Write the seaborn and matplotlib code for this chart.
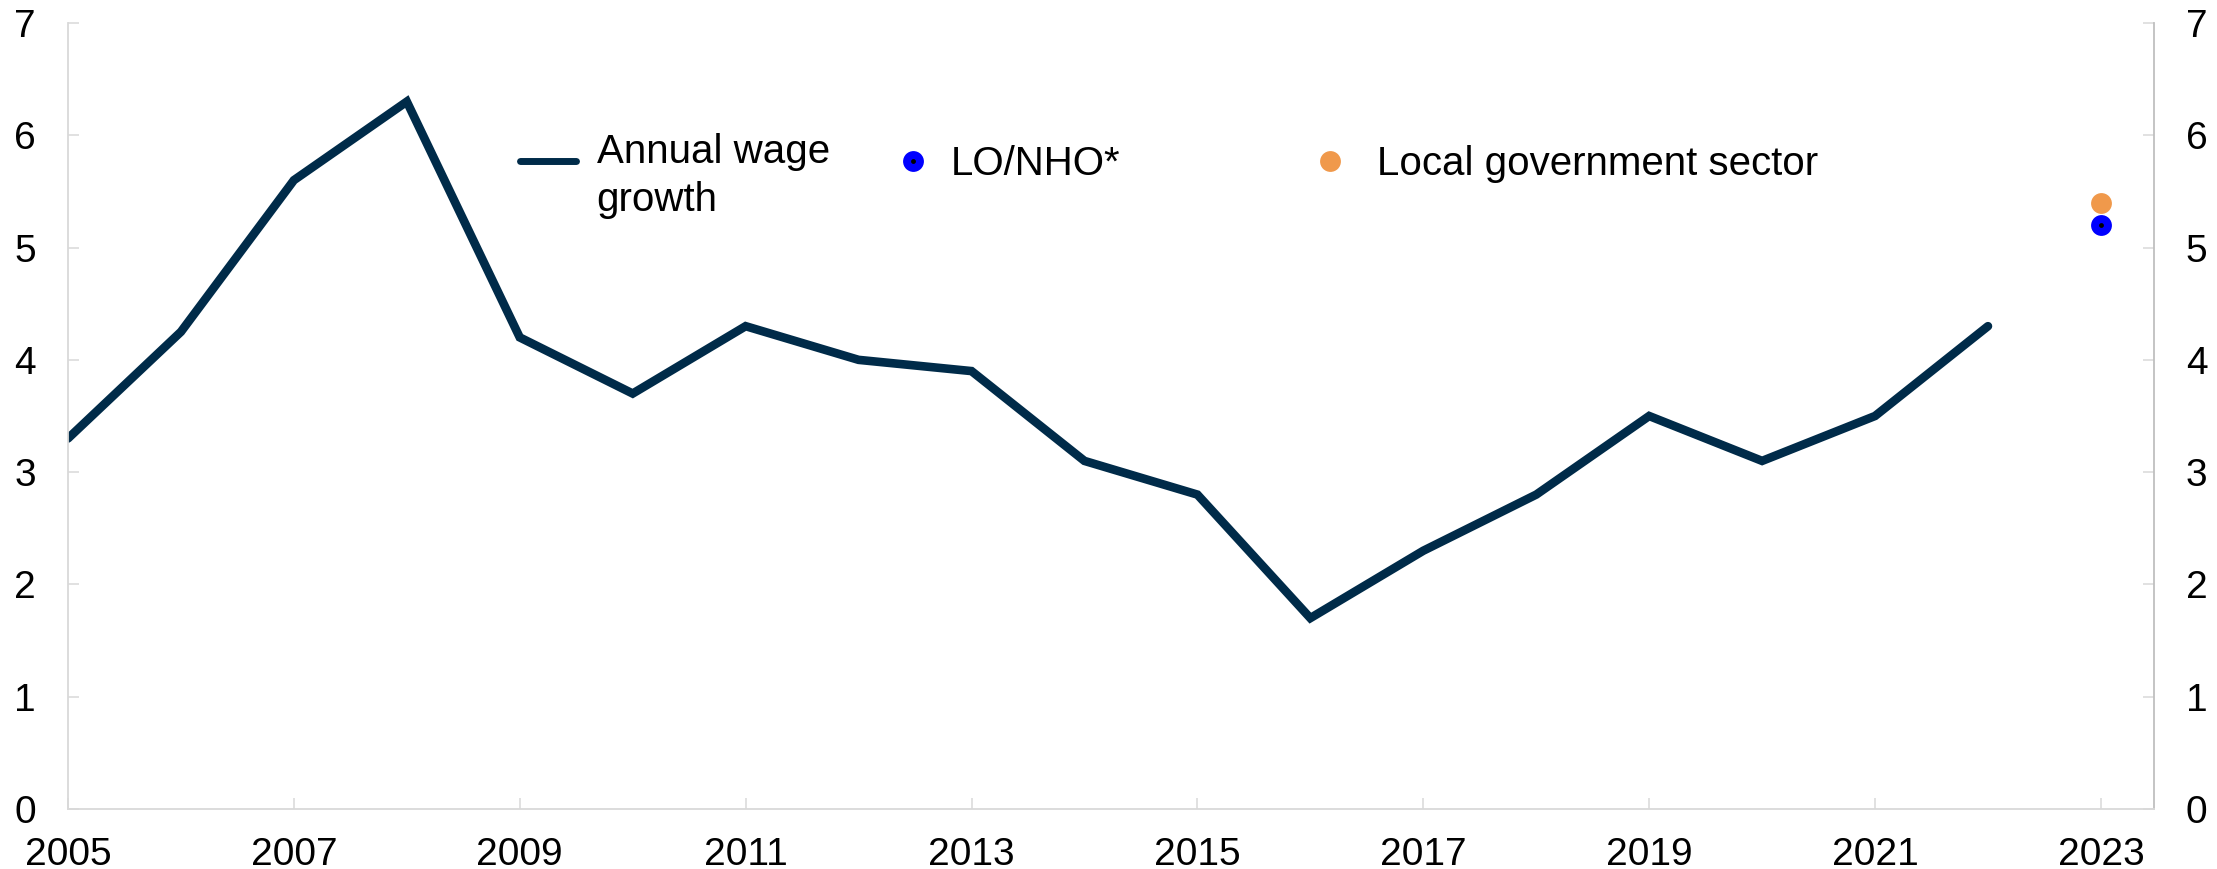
import matplotlib
matplotlib.use("Agg")
import matplotlib.pyplot as plt
from matplotlib.lines import Line2D
from matplotlib.legend_handler import HandlerLine2D
import seaborn as sns
import pandas as pd

# ---- data ----
years = [2005, 2006, 2007, 2008, 2009, 2010, 2011, 2012, 2013, 2014,
         2015, 2016, 2017, 2018, 2019, 2020, 2021, 2022]
wage_growth = [3.3, 4.25, 5.6, 6.3, 4.2, 3.7, 4.3, 4.0, 3.9, 3.1,
               2.8, 1.7, 2.3, 2.8, 3.5, 3.1, 3.5, 4.3]
settle_year = [2023]
lo_nho = [5.2]
local_gov = [5.4]
xticks = [2005, 2007, 2009, 2011, 2013, 2015, 2017, 2019, 2021, 2023]
yticks = [0, 1, 2, 3, 4, 5, 6, 7]
labels = ["Annual wage\ngrowth", "LO/NHO*", "Local government sector"]

LINE_C = "#002B49"
BLUE = "#0000FF"
ORANGE = "#F0994B"

sns.set_style("white")
plt.rcParams["font.family"] = ["Liberation Sans", "DejaVu Sans"]
FS_TICK = 28
FS_LEG = 29

W, H = 2217, 869
fig = plt.figure(figsize=(W / 100, H / 100), dpi=100)
ax = fig.add_axes([68 / W, 1 - 809 / H, (2154 - 68) / W, (809 - 23) / H])

df = pd.DataFrame({"year": years, "wage": wage_growth})
sns.lineplot(data=df, x="year", y="wage", ax=ax, color=LINE_C, lw=6.2,
             solid_joinstyle="miter", legend=False)
df2 = pd.DataFrame({"year": settle_year, "lo": lo_nho, "local": local_gov})
sns.scatterplot(data=df2, x="year", y="local", ax=ax, color=ORANGE, s=225,
                linewidth=0, legend=False, zorder=3)
sns.scatterplot(data=df2, x="year", y="lo", ax=ax, color=BLUE, s=225,
                linewidth=0, legend=False, zorder=3)
sns.scatterplot(data=df2, x="year", y="lo", ax=ax, color="black", s=12,
                linewidth=0, legend=False, zorder=4)

ax.set_xlim(2005, 2023.47)
ax.set_ylim(0, 7)
ax.set_xticks(xticks)
ax.set_xticklabels([str(t) for t in xticks])
ax.set_yticks(yticks)
ax.set_yticklabels([str(t) for t in yticks])
ax.set_xlabel("")
ax.set_ylabel("")

ax.spines["top"].set_visible(False)
for s, c in [("left", "#d9d9d9"), ("bottom", "#d9d9d9"), ("right", "#bfbfbf")]:
    ax.spines[s].set_visible(True)
    ax.spines[s].set_color(c)
    ax.spines[s].set_linewidth(1.3)

ax.tick_params(axis="x", direction="in", length=8, width=1.1, color="#d9d9d9",
               labelsize=FS_TICK, labelcolor="black", pad=20,
               bottom=True, top=False)
ax.tick_params(axis="y", direction="in", length=8, width=1.1, color="#d9d9d9",
               labelsize=FS_TICK, labelcolor="black", pad=23,
               left=True, right=True, labelleft=True, labelright=True)
for t in ax.yaxis.get_major_ticks():
    t.tick2line.set_color("#bfbfbf")


# ---- legends ----
class RaisedLine(HandlerLine2D):
    def __init__(self, shift, **kw):
        super().__init__(**kw)
        self.shift = shift

    def create_artists(self, legend, orig_handle, xdescent, ydescent,
                       width, height, fontsize, trans):
        return super().create_artists(legend, orig_handle, xdescent,
                                      ydescent - 2 * self.shift, width,
                                      height, fontsize, trans)


def fx(px):
    return px / W


def fy(py):
    return 1 - py / H


h1 = Line2D([], [], color=LINE_C, lw=5.0)
leg1 = fig.legend([h1], [labels[0]], loc="center left",
                  bbox_to_anchor=(fx(520), fy(176)), frameon=False,
                  fontsize=FS_LEG, labelcolor="black", borderpad=0,
                  borderaxespad=0, handlelength=1.4, handletextpad=0.5,
                  handler_map={h1: RaisedLine(11.5)})
for t in leg1.get_texts():
    t.set_linespacing(1.33)
h2a = Line2D([], [], color=BLUE, marker="o", ls="", markersize=15, markeredgewidth=0)
h2b = Line2D([], [], color="black", marker="o", ls="", markersize=3.5, markeredgewidth=0)
leg2 = fig.legend([(h2a, h2b)], [labels[1]], loc="center left",
                  bbox_to_anchor=(fx(903), fy(164)), frameon=False,
                  fontsize=FS_LEG, labelcolor="black", borderpad=0,
                  borderaxespad=0, handlelength=0.5, handletextpad=0.68)
h3 = Line2D([], [], color=ORANGE, marker="o", ls="", markersize=15, markeredgewidth=0)
leg3 = fig.legend([h3], [labels[2]], loc="center left",
                  bbox_to_anchor=(fx(1320), fy(164)), frameon=False,
                  fontsize=FS_LEG, labelcolor="black", borderpad=0,
                  borderaxespad=0, handlelength=0.5, handletextpad=0.92)

fig.savefig("out.png", dpi=100)
